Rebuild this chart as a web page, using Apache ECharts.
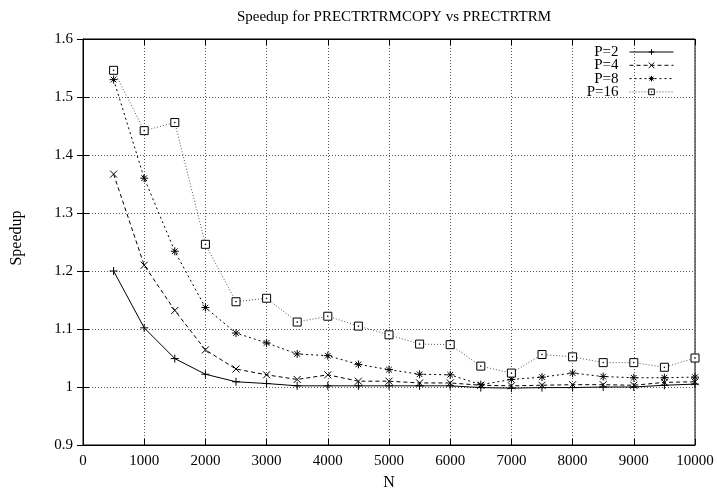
<!DOCTYPE html>
<html>
<head>
<meta charset="utf-8">
<script src="https://cdn.jsdelivr.net/npm/echarts@6/dist/echarts.min.js"></script>
<style>
  html, body { margin: 0; padding: 0; background: #fff; }
  #chart { width: 717px; height: 496px; }
</style>
</head>
<body>
<div id="chart"></div>
<script>
// Matrix size N
const N = [500, 1000, 1500, 2000, 2500, 3000, 3500, 4000, 4500, 5000,
           5500, 6000, 6500, 7000, 7500, 8000, 8500, 9000, 9500, 10000];

// Speedup of PRECTRTRMCOPY over PRECTRTRM for each process count
const p2  = [1.200, 1.102, 1.049, 1.022, 1.009, 1.006, 1.002, 1.002, 1.002, 1.002,
             1.002, 1.002, 0.999, 0.998, 0.999, 0.999, 1.000, 1.000, 1.003, 1.005];
const p4  = [1.367, 1.210, 1.132, 1.064, 1.031, 1.021, 1.013, 1.021, 1.010, 1.010,
             1.007, 1.007, 1.003, 1.002, 1.003, 1.004, 1.004, 1.003, 1.008, 1.009];
const p8  = [1.530, 1.360, 1.234, 1.137, 1.093, 1.076, 1.057, 1.054, 1.039, 1.030,
             1.022, 1.021, 1.004, 1.013, 1.017, 1.024, 1.018, 1.016, 1.016, 1.017];
const p16 = [1.546, 1.442, 1.456, 1.246, 1.147, 1.153, 1.112, 1.122, 1.105, 1.090,
             1.074, 1.073, 1.036, 1.024, 1.056, 1.052, 1.042, 1.042, 1.034, 1.050];

const seriesNames = ['P=2', 'P=4', 'P=8', 'P=16'];
const xTicks = { min: 0, max: 10000, interval: 1000 };
const yTicks = { min: 0.9, max: 1.6, interval: 0.1 };

const FONT = 'Liberation Serif';

// gnuplot-like point glyphs
const SYM_PLUS   = 'path://M0,5L10,5M5,0L5,10';
const SYM_CROSS  = 'path://M0,0L10,10M10,0L0,10';
const SYM_STAR   = 'path://M0,5L10,5M5,0L5,10M1.5,1.5L8.5,8.5M8.5,1.5L1.5,8.5';
const SYM_SQUARE = 'path://M0,0L10,0L10,10L0,10ZM4.6,4.6L5.4,4.6L5.4,5.4L4.6,5.4Z';

function pairs(vals) { return N.map((n, i) => [n, vals[i]]); }

function makeSeries(name, vals, symbol, size, lineType, lineColor, fill) {
  return {
    name: name,
    type: 'line',
    data: pairs(vals),
    symbol: symbol,
    symbolSize: size,
    showAllSymbol: true,
    animation: false,
    lineStyle: { color: lineColor, width: 1, type: lineType },
    itemStyle: { color: fill, borderColor: '#000', borderWidth: 1 },
    emphasis: { disabled: true }
  };
}

const chart = echarts.init(document.getElementById('chart'), null, { renderer: 'canvas' });

const tickStyle = { show: true, inside: true, length: 6, lineStyle: { color: '#000', width: 1 } };

chart.setOption({
  backgroundColor: '#fff',
  animation: false,
  title: {
    text: 'Speedup for PRECTRTRMCOPY vs PRECTRTRM',
    left: 389, top: 5, textAlign: 'center',
    textStyle: { fontFamily: FONT, fontSize: 15, fontWeight: 'normal', color: '#000' }
  },
  legend: {
    orient: 'vertical',
    right: 43, top: 44.5,
    padding: 0,
    align: 'right',
    itemWidth: 44, itemHeight: 7, itemGap: -1.7,
    lineStyle: { width: 1 },
    itemStyle: { borderWidth: 1 },
    textStyle: { fontFamily: FONT, fontSize: 15, color: '#000', padding: [0, 6, 0, 0] },
    data: seriesNames
  },
  grid: {
    left: 83, right: 22, top: 39, bottom: 49,
    show: true, borderColor: '#000', borderWidth: 1, backgroundColor: 'transparent'
  },
  xAxis: [{
    type: 'value', ...xTicks,
    name: 'N', nameLocation: 'middle', nameGap: 30,
    nameTextStyle: { fontFamily: FONT, fontSize: 16, color: '#000' },
    axisLine: { show: true, lineStyle: { color: '#000', width: 1 } },
    axisTick: tickStyle,
    axisLabel: { fontFamily: FONT, fontSize: 15, color: '#000', margin: 9,
                 formatter: v => String(v) },
    splitLine: { show: true, lineStyle: { color: '#555', width: 1, type: [1, 2] } }
  }, {
    type: 'value', ...xTicks, position: 'top',
    axisLine: { show: true, lineStyle: { color: '#000' } },
    axisTick: tickStyle, axisLabel: { show: false }, splitLine: { show: false }
  }],
  yAxis: [{
    type: 'value', ...yTicks,
    name: 'Speedup', nameLocation: 'middle', nameGap: 58, nameRotate: 90,
    nameTextStyle: { fontFamily: FONT, fontSize: 16, color: '#000', padding: [0, 0, 0, 8] },
    axisLine: { show: true, lineStyle: { color: '#000', width: 1 } },
    axisTick: tickStyle,
    axisLabel: { fontFamily: FONT, fontSize: 15, color: '#000', margin: 10 },
    splitLine: { show: true, lineStyle: { color: '#555', width: 1, type: [1, 2] } }
  }, {
    type: 'value', ...yTicks, position: 'right',
    axisLine: { show: true, lineStyle: { color: '#000' } },
    axisTick: tickStyle, axisLabel: { show: false }, splitLine: { show: false }
  }],
  series: [
    makeSeries('P=2',  p2,  SYM_PLUS,   8, 'solid',  '#000', '#000'),
    makeSeries('P=4',  p4,  SYM_CROSS,  7, [4, 3],   '#000', '#000'),
    makeSeries('P=8',  p8,  SYM_STAR,   8, [2, 3],   '#000', '#000'),
    makeSeries('P=16', p16, SYM_SQUARE, 8, [1, 2],   '#555', '#fff')
  ]
});
</script>
</body>
</html>
